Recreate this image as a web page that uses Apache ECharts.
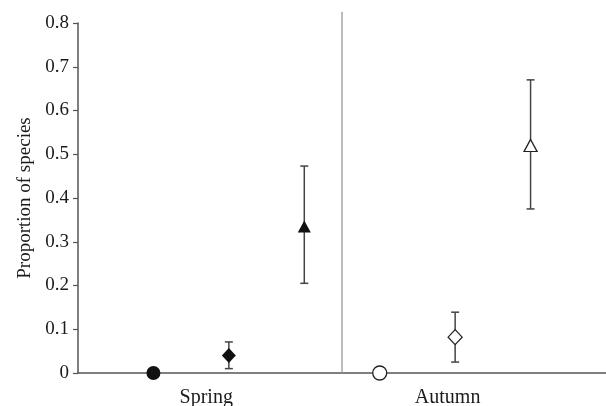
<!DOCTYPE html>
<html>
<head>
<meta charset="utf-8">
<script src="https://cdn.jsdelivr.net/npm/echarts@6/dist/echarts.min.js"></script>
<style>
  html, body { margin: 0; padding: 0; background: #ffffff; }
</style>
</head>
<body>
<div id="chart" style="width: 606px; height: 406px;"></div>
<script>
// seasons and where their labels sit on the x scale
var seasons = ['Spring', 'Autumn'];
var seasonAt = [1.7, 4.9];
var dividerAt = 3.5;

// one entry per plotted group
var xPos = [1, 2, 3, 4, 5, 6];
var means = [0, 0.04, 0.335, 0, 0.082, 0.52];
var lower = [null, 0.01, 0.205, null, 0.025, 0.375];
var upper = [null, 0.071, 0.473, null, 0.139, 0.67];
var shapes = ['circle', 'diamond', 'triangle', 'circle', 'diamond', 'triangle'];
var filled = [true, true, true, false, false, false];

var yTicks = [0, 0.1, 0.2, 0.3, 0.4, 0.5, 0.6, 0.7, 0.8];

var font = 'Liberation Serif';

var errData = [];
for (var i = 0; i < xPos.length; i++) {
  if (lower[i] != null) errData.push([xPos[i], lower[i], upper[i]]);
}

var sizes = { circle: [14, 14], diamond: [14, 15], triangle: [13, 12] };

var pointSeries = xPos.map(function (x, i) {
  return {
    type: 'scatter',
    z: 5,
    symbol: shapes[i],
    symbolSize: sizes[shapes[i]],
    itemStyle: {
      color: filled[i] ? '#111111' : '#ffffff',
      borderColor: '#222222',
      borderWidth: filled[i] ? 0 : 1.3,
      opacity: 1
    },
    clip: false,
    data: [[x, means[i]]]
  };
});

var chart = echarts.init(document.getElementById('chart'));
chart.setOption({
  animation: false,
  backgroundColor: '#ffffff',
  grid: { left: 78, right: 0, top: 23, bottom: 33, outerBoundsMode: 'none', containLabel: false },
  xAxis: {
    type: 'value',
    min: 0,
    max: 7,
    splitLine: { show: false },
    axisLine: { show: true, lineStyle: { color: '#555555', width: 1.5 } },
    axisTick: { show: false },
    axisLabel: {
      customValues: seasonAt,
      formatter: function (v) {
        var k = seasonAt.indexOf(v);
        return k >= 0 ? seasons[k] : '';
      },
      fontFamily: font,
      fontSize: 20,
      color: '#1a1a1a',
      margin: 15
    }
  },
  yAxis: {
    type: 'value',
    min: 0,
    max: 0.8,
    interval: 0.1,
    name: 'Proportion of species',
    nameLocation: 'middle',
    nameGap: 40,
    nameTextStyle: { fontFamily: font, fontSize: 19, color: '#1a1a1a' },
    splitLine: { show: false },
    axisLine: { show: true, lineStyle: { color: '#555555', width: 1.5 } },
    axisTick: { show: true, inside: false, length: 5, lineStyle: { color: '#555555', width: 1.2 } },
    axisLabel: {
      fontFamily: font,
      fontSize: 19,
      color: '#1a1a1a',
      margin: 9,
      formatter: function (v) {
        var r = Math.round(v * 10) / 10;
        return yTicks.indexOf(r) >= 0 ? String(r) : '';
      }
    }
  },
  series: [
    {
      // season divider
      type: 'custom',
      z: 1,
      clip: false,
      data: [[dividerAt, 0, 0.826]],
      renderItem: function (params, api) {
        var lo = api.coord([api.value(0), api.value(1)]);
        var hi = api.coord([api.value(0), api.value(2)]);
        return {
          type: 'line',
          shape: { x1: lo[0], y1: lo[1], x2: hi[0], y2: hi[1] },
          style: { stroke: '#9a9a9a', lineWidth: 1.3 }
        };
      }
    },
    {
      type: 'custom',
      z: 3,
      data: errData,
      renderItem: function (params, api) {
        var lo = api.coord([api.value(0), api.value(1)]);
        var hi = api.coord([api.value(0), api.value(2)]);
        var half = 4;
        var st = { stroke: '#444444', lineWidth: 1.5 };
        return {
          type: 'group',
          children: [
            { type: 'line', shape: { x1: lo[0], y1: lo[1], x2: hi[0], y2: hi[1] }, style: st },
            { type: 'line', shape: { x1: hi[0] - half, y1: hi[1], x2: hi[0] + half, y2: hi[1] }, style: st },
            { type: 'line', shape: { x1: lo[0] - half, y1: lo[1], x2: lo[0] + half, y2: lo[1] }, style: st }
          ]
        };
      }
    }
  ].concat(pointSeries)
});
</script>
</body>
</html>
